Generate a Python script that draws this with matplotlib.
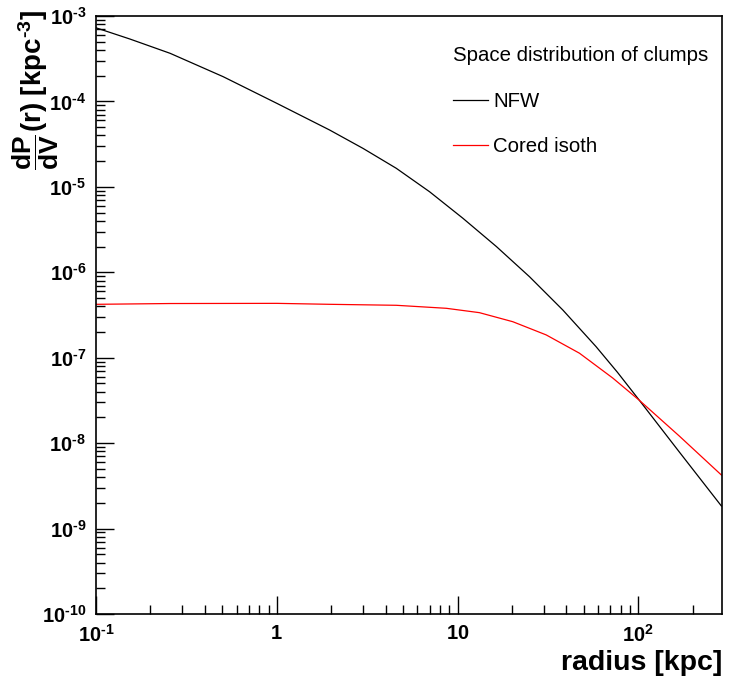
import numpy as np
import matplotlib
matplotlib.use("Agg")
import matplotlib.pyplot as plt
from matplotlib.ticker import LogLocator, FixedLocator, FixedFormatter, NullFormatter

plt.rcParams['font.family'] = 'Liberation Sans'
plt.rcParams['mathtext.fontset'] = 'custom'
plt.rcParams['mathtext.rm'] = 'Liberation Sans'
plt.rcParams['mathtext.bf'] = 'Liberation Sans:bold'
plt.rcParams['mathtext.it'] = 'Liberation Sans:italic'

# radius [kpc] and dP/dV [kpc^-3] for both clump distributions
r_nfw = [0.1, 0.154, 0.257, 0.505, 1.0, 1.96, 3.0, 4.58, 7.0, 10.7, 16.4, 25.0,
         38.2, 58.3, 76.6, 101.3, 168.5, 287.7]
p_nfw = [7.28e-4, 5.38e-4, 3.66e-4, 1.95e-4, 9.51e-5, 4.63e-5, 2.82e-5, 1.65e-5,
         8.77e-6, 4.29e-6, 2.0e-6, 8.87e-7, 3.62e-7, 1.35e-7, 6.75e-8, 3.17e-8,
         7.87e-9, 1.84e-9]

r_iso = [0.1, 0.257, 1.0, 1.96, 4.58, 8.66, 13.2, 20.2, 30.9, 47.2, 72.1, 101.3,
         168.5, 287.7]
p_iso = [4.22e-7, 4.31e-7, 4.33e-7, 4.22e-7, 4.11e-7, 3.79e-7, 3.37e-7, 2.64e-7,
         1.85e-7, 1.13e-7, 5.79e-8, 3.17e-8, 1.21e-8, 4.24e-9]

# exponents written with a plain hyphen, ROOT style
x_ticks = [0.1, 1, 10, 100]
x_labels = [r'$\mathbf{10^{‐1}}$', r'$\mathbf{1}$', r'$\mathbf{10}$', r'$\mathbf{10^{2}}$']
y_ticks = [1e-10, 1e-9, 1e-8, 1e-7, 1e-6, 1e-5, 1e-4, 1e-3]
y_labels = [r'$\mathbf{10^{‐%d}}$' % k for k in range(10, 2, -1)]

fig = plt.figure(figsize=(7.35, 6.76), dpi=100)
ax = fig.add_axes([0.1306, 0.0917, 0.8517, 0.8846])

ax.plot(r_nfw, p_nfw, color='black', lw=0.9, label='NFW')
ax.plot(r_iso, p_iso, color='red', lw=0.9, label='Cored isoth')

ax.set_xscale('log')
ax.set_yscale('log')
ax.set_xlim(0.1, 290)
ax.set_ylim(1e-10, 1e-3)

ax.xaxis.set_major_locator(FixedLocator(x_ticks))
ax.xaxis.set_major_formatter(FixedFormatter(x_labels))
ax.xaxis.set_minor_locator(LogLocator(base=10, subs=np.arange(2, 10), numticks=20))
ax.xaxis.set_minor_formatter(NullFormatter())
ax.yaxis.set_major_locator(FixedLocator(y_ticks))
ax.yaxis.set_major_formatter(FixedFormatter(y_labels))
ax.yaxis.set_minor_locator(LogLocator(base=10, subs=np.arange(2, 10), numticks=20))
ax.yaxis.set_minor_formatter(NullFormatter())

ax.tick_params(which='both', direction='in', top=False, right=False, labelsize=14.5, width=1)
ax.tick_params(which='major', length=13, pad=7)
ax.tick_params(which='minor', length=6.5)
for s in ax.spines.values():
    s.set_linewidth(1.2)

ax.set_xlabel('radius [kpc]', fontsize=20.5, fontweight='bold', loc='right', labelpad=3)

# y title in two pieces: the derivative fraction and the "(r) [kpc^-3]" part
ax.text(-0.0855, 1.01, r'$\mathbf{(r)\ [kpc^{‐3}]}$', transform=ax.transAxes,
        rotation=90, rotation_mode='anchor', ha='right', va='baseline', fontsize=20)
ax.text(-0.0958, 0.7726, r'$\mathbf{\dfrac{dP}{dV}}$', transform=ax.transAxes,
        rotation=90, rotation_mode='anchor', ha='center', va='center', fontsize=19)

leg = ax.legend(title='Space distribution of clumps', loc='upper left',
                bbox_to_anchor=(0.551, 0.970), frameon=False, fontsize=14.7,
                title_fontsize=14.7, handlelength=1.7, handletextpad=0.25,
                labelspacing=1.3, borderaxespad=0, borderpad=0.6)
leg._legend_box.align = 'left'

fig.savefig('out.png', dpi=100)
